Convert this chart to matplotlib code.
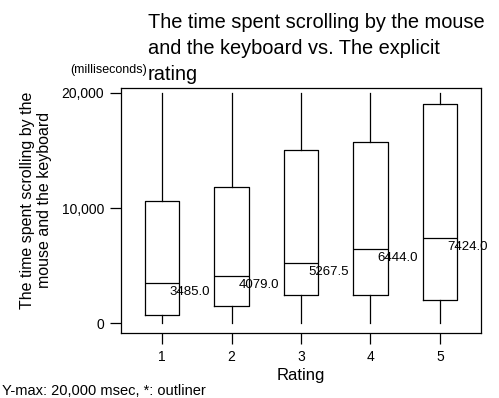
import matplotlib.pyplot as plt
from matplotlib.ticker import FuncFormatter

plt.rcParams['font.family'] = ['Liberation Sans', 'DejaVu Sans']

# box plot summary per rating (milliseconds)
ratings = [1, 2, 3, 4, 5]
medians = [3485.0, 4079.0, 5267.5, 6444.0, 7424.0]
q1 = [780, 1480, 2430, 2500, 2060]
q3 = [10600, 11850, 15070, 15770, 19020]
whisk_lo = [30, 0, 0, 0, 0]
whisk_hi = [20000, 20000, 20000, 20000, 20000]

stats = []
for i in range(len(ratings)):
    stats.append(dict(med=medians[i], q1=q1[i], q3=q3[i],
                      whislo=whisk_lo[i], whishi=whisk_hi[i], fliers=[]))

fig = plt.figure(figsize=(4.99, 3.98), dpi=100)
ax = fig.add_axes([0.2425, 0.1633, 0.7214, 0.6156])

ax.bxp(stats, positions=ratings, widths=0.5, showcaps=False, showfliers=False,
       boxprops=dict(color='black', linewidth=0.9),
       whiskerprops=dict(color='black', linewidth=0.9),
       medianprops=dict(color='black', linewidth=0.9))

# median values written next to each box
for x, m in zip(ratings, medians):
    ax.annotate(f"{m:.1f}", (x + 0.1, m), xytext=(0, -2), textcoords='offset points',
                ha='left', va='top', fontsize=9.5)

ax.set_xlim(0.41, 5.59)
ax.set_ylim(-825, 20430)
ax.set_xticks(ratings)
ax.set_xticklabels([str(r) for r in ratings])
ax.set_yticks([0, 10000, 20000])
ax.yaxis.set_major_formatter(FuncFormatter(lambda v, p: f"{int(v):,}"))
ax.tick_params(axis='both', length=8, width=0.9, labelsize=10, pad=4)

for s in ax.spines.values():
    s.set_linewidth(0.9)
    s.set_color('black')

ax.set_xlabel("Rating", fontsize=12, labelpad=3)

fig.text(36 / 499, 1 - 200 / 398, "The time spent scrolling by the\nmouse and the keyboard",
         rotation=90, ha='center', va='center', fontsize=11.5, linespacing=1.1)

fig.text(148 / 499, 1 - 13 / 398,
         "The time spent scrolling by the mouse\nand the keyboard vs. The explicit\nrating",
         ha='left', va='top', fontsize=14.4, linespacing=1.47)

fig.text(70 / 499, 1 - 70 / 398, "(milliseconds)", ha='left', va='center', fontsize=9)

fig.text(2 / 499, 1 - 391 / 398, "Y-max: 20,000 msec, *: outliner",
         ha='left', va='center', fontsize=10.5)

fig.savefig("out.png", dpi=100)
